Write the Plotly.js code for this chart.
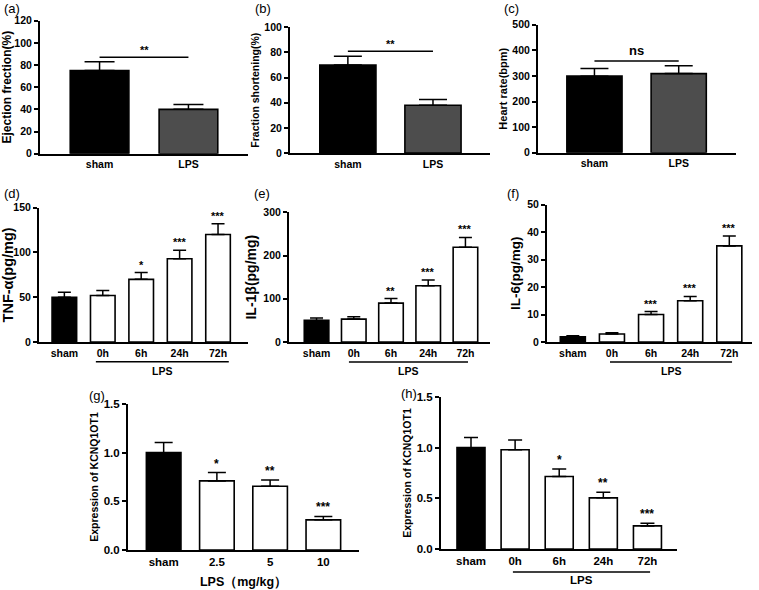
<!DOCTYPE html>
<html>
<head>
<meta charset="utf-8">
<script src="https://cdn.plot.ly/plotly-3.0.1.min.js"></script>
<style>html,body{margin:0;padding:0;background:#fff}#chart{width:759px;height:590px}</style>
</head>
<body>
<div id="chart"></div>
<script>
// ---------------- DATA ----------------
const catsAB = ["sham", "LPS"];
const catsTime = ["sham", "0h", "6h", "24h", "72h"];
const catsDose = ["sham", "2.5", "5", "10"];

const efValues = [75, 40];          const efErr = [8, 4.5];
const fsValues = [70, 38];          const fsErr = [7, 4.5];
const hrValues = [299, 309];        const hrErr = [30, 31];
const tnfValues = [50, 52, 70, 93, 120];   const tnfErr = [5.5, 5.5, 7.5, 9.5, 12];
const il1bValues = [50, 53, 90, 130, 219]; const il1bErr = [5.5, 5.5, 10.5, 13.5, 23];
const il6Values = [1.9, 2.9, 10, 15, 35];  const il6Err = [0.4, 0.5, 1.1, 1.6, 3.6];
const kcnqDoseValues = [1.0, 0.71, 0.655, 0.31]; const kcnqDoseErr = [0.105, 0.085, 0.065, 0.035];
const kcnqTimeValues = [1.0, 0.98, 0.715, 0.505, 0.228]; const kcnqTimeErr = [0.1, 0.095, 0.075, 0.055, 0.026];

const starsA = ["**"]; const bracketA = 87;
const starsB = ["**"]; const bracketB = 81;
const starsC = ["ns"]; const bracketC = 358;
const starsTNF = ["", "", "*", "***", "***"];
const starsIL1b = ["", "", "**", "***", "***"];
const starsIL6 = ["", "", "***", "***", "***"];
const starsDose = ["", "*", "**", "***"];
const starsTime = ["", "", "*", "**", "***"];

const yTitles = ["Ejection frection(%)", "Fraction shortening(%)", "Heart rate(bpm)",
  "TNF-α(pg/mg)", "IL-1β(pg/mg)", "IL-6(pg/mg)", "Expression of KCNQ1OT1", "Expression of KCNQ1OT1"];
const panelLabels = ["(a)", "(b)", "(c)", "(d)", "(e)", "(f)", "(g)", "(h)"];

// ---------------- STYLE / LAYOUT ----------------
const W = 759, H = 590;
const FONT = "Liberation Sans, Arial, Helvetica, sans-serif";
const BLACK = "#000000", GREY = "#4d4d4d", WHITE = "#ffffff";
const px = v => v / W;
const py = v => 1 - v / H;

const panels = [
  {cats: catsAB, vals: efValues, err: efErr, colors: [BLACK, GREY], box: [40, 248, 153.7, 20.7], yr: [0, 120], dt: 20, xr: [-0.67, 1.67], bw: 0.66, cap: 15, lab: [2, 8], bracket: bracketA, bstars: starsA, ts: 12},
  {cats: catsAB, vals: fsValues, err: fsErr, colors: [BLACK, GREY], box: [290, 490, 153, 27.3], yr: [0, 100], dt: 20, xr: [-0.68, 1.67], bw: 0.66, cap: 14, lab: [253, 8], bracket: bracketB, bstars: starsB, ts: 10.5},
  {cats: catsAB, vals: hrValues, err: hrErr, colors: [BLACK, GREY], box: [538, 736, 152.7, 24.7], yr: [0, 500], dt: 100, xr: [-0.67, 1.68], bw: 0.655, cap: 14, lab: [502, 8], bracket: bracketC, bstars: starsC, ts: 11},
  {cats: catsTime, vals: tnfValues, err: tnfErr, stars: starsTNF, colors: [BLACK, WHITE, WHITE, WHITE, WHITE], box: [39, 248, 342, 207.7], yr: [0, 150], dt: 50, xr: [-0.66, 4.78], bw: 0.64, cap: 6.5, lab: [2, 193], under: [0.82, 4.28, 361.7, 371], ts: 14.5},
  {cats: catsTime, vals: il1bValues, err: il1bErr, stars: starsIL1b, colors: [BLACK, WHITE, WHITE, WHITE, WHITE], box: [289, 490, 342, 212.3], yr: [0, 300], dt: 100, xr: [-0.74, 4.66], bw: 0.66, cap: 6.5, lab: [252, 193], under: [0.87, 4.07, 362, 371], ts: 14},
  {cats: catsTime, vals: il6Values, err: il6Err, stars: starsIL6, colors: [BLACK, WHITE, WHITE, WHITE, WHITE], box: [547, 752, 342, 204.7], yr: [0, 50], dt: 10, xr: [-0.66, 4.58], bw: 0.64, cap: 6.5, lab: [505, 193], under: [0.95, 4.07, 362, 371], ts: 13.5},
  {cats: catsDose, vals: kcnqDoseValues, err: kcnqDoseErr, stars: starsDose, colors: [BLACK, WHITE, WHITE, WHITE], box: [128, 359, 550, 404], yr: [0, 1.5], dt: 0.5, fmt: ".1f", xr: [-0.67, 3.67], bw: 0.65, cap: 9, lab: [87, 395], xtitle: "LPS（mg/kg）", ts: 10.5},
  {cats: catsTime, vals: kcnqTimeValues, err: kcnqTimeErr, stars: starsTime, colors: [BLACK, WHITE, WHITE, WHITE, WHITE], box: [441, 677, 549, 397], yr: [0, 1.5], dt: 0.5, fmt: ".1f", xr: [-0.68, 4.67], bw: 0.635, cap: 7, lab: [399, 393], under: [0.95, 4.06, 572, 580], ts: 10.5}
];

const data = [];
const layout = {
  width: W, height: H,
  margin: {l: 0, r: 0, t: 0, b: 0},
  paper_bgcolor: WHITE, plot_bgcolor: "rgba(0,0,0,0)",
  showlegend: false,
  font: {family: FONT, color: BLACK},
  annotations: [], shapes: []
};

panels.forEach((p, i) => {
  const n = i + 1;
  const xa = n === 1 ? "x" : "x" + n;
  const ya = n === 1 ? "y" : "y" + n;
  const xkey = n === 1 ? "xaxis" : "xaxis" + n;
  const ykey = n === 1 ? "yaxis" : "yaxis" + n;
  const big = i >= 6;
  const tickSize = big ? 11.5 : 10.5;

  data.push({
    type: "bar", x: p.cats, y: p.vals, xaxis: xa, yaxis: ya,
    width: p.bw,
    marker: {color: p.colors, line: {color: BLACK, width: 1.6}},
    error_y: {type: "data", symmetric: false, array: p.err, arrayminus: p.err.map(() => 0),
      color: BLACK, thickness: 1.5, width: p.cap},
    hoverinfo: "skip"
  });

  layout[xkey] = {
    domain: [px(p.box[0]), px(p.box[1])], anchor: ya,
    type: "category", range: p.xr, fixedrange: true,
    showline: true, linecolor: BLACK, linewidth: 2, ticks: "", showgrid: false, zeroline: false,
    tickfont: {family: FONT, size: tickSize, weight: "bold", color: BLACK},
    title: p.xtitle ? {text: p.xtitle, font: {family: FONT, size: 12.5, weight: "bold"}, standoff: 10} : {text: ""}
  };
  layout[ykey] = {
    domain: [py(p.box[2]), py(p.box[3])], anchor: xa,
    range: p.yr, dtick: p.dt, tick0: 0, tickformat: p.fmt || "d", fixedrange: true,
    showline: true, linecolor: BLACK, linewidth: 2, ticks: "outside", ticklen: 4, tickwidth: 2, tickcolor: BLACK,
    showgrid: false, zeroline: false,
    tickfont: {family: FONT, size: tickSize, weight: "bold", color: BLACK},
    title: {text: yTitles[i], font: {family: FONT, size: p.ts, weight: "bold"}, standoff: 3}
  };

  // panel letter
  layout.annotations.push({xref: "paper", yref: "paper", x: px(p.lab[0]), y: py(p.lab[1]),
    xanchor: "left", yanchor: "middle", text: panelLabels[i], showarrow: false,
    font: {family: FONT, size: 13, color: BLACK}});

  // per-bar stars
  if (p.stars) {
    p.stars.forEach((s, k) => {
      if (!s) return;
      layout.annotations.push({xref: xa, yref: ya, x: k, y: p.vals[k] + p.err[k],
        xanchor: "center", yanchor: "bottom", yshift: 0, text: s, showarrow: false,
        font: {family: FONT, size: big ? 12 : 11, weight: "bold", color: BLACK}});
    });
  }

  // comparison bracket (a-c)
  if (p.bracket !== undefined) {
    layout.shapes.push({type: "line", xref: xa, yref: ya, x0: 0, x1: 1, y0: p.bracket, y1: p.bracket,
      line: {color: BLACK, width: 1.5}});
    const isNs = p.bstars[0] === "ns";
    layout.annotations.push({xref: xa, yref: ya, x: 0.5, y: p.bracket,
      xanchor: "center", yanchor: "bottom", yshift: isNs ? 1 : -1, text: p.bstars[0], showarrow: false,
      font: {family: FONT, size: isNs ? 13 : 11, weight: "bold", color: BLACK}});
  }

  // LPS underline group label
  if (p.under) {
    layout.shapes.push({type: "line", xref: xa, yref: "paper", x0: p.under[0], x1: p.under[1],
      y0: py(p.under[2]), y1: py(p.under[2]), line: {color: BLACK, width: 1.5}});
    layout.annotations.push({xref: xa, yref: "paper", x: (p.under[0] + p.under[1]) / 2, y: py(p.under[3]),
      xanchor: "center", yanchor: "middle", text: "LPS", showarrow: false,
      font: {family: FONT, size: big ? 11.5 : 10.5, weight: "bold", color: BLACK}});
  }
});

Plotly.newPlot("chart", data, layout, {staticPlot: true, displayModeBar: false});
</script>
</body>
</html>
